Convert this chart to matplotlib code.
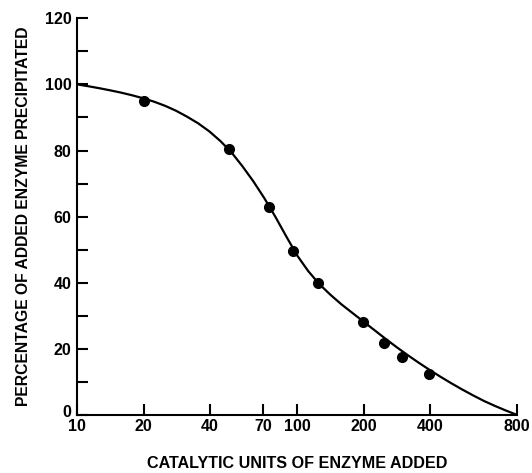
import matplotlib
matplotlib.use("Agg")
import matplotlib.pyplot as plt
from matplotlib.transforms import ScaledTranslation

# measured data points
pts_x = [20.2, 49.1, 74.5, 95.6, 124, 199, 249, 299, 397]
pts_y = [95.0, 80.4, 62.9, 49.6, 39.8, 28.2, 21.7, 17.5, 12.5]

# fitted curve
curve_x = [10, 11.22, 12.59, 14.13, 15.85, 17.78, 19.95, 22.39, 25.12, 28.18,
           31.62, 35.48, 39.81, 44.67, 50.12, 56.23, 63.10, 70.79, 79.43, 89.13,
           100, 112.2, 125.9, 141.3, 158.5, 177.8, 199.5, 223.9, 251.2, 281.8,
           316.2, 354.8, 398.1, 446.7, 501.2, 562.3, 631.0, 707.9, 794.3, 891.3, 1000]
curve_y = [100, 99.45, 98.85, 98.2, 97.5, 96.7, 95.8, 94.75, 93.5, 92.0,
           90.2, 88.2, 85.8, 82.9, 79.5, 75.3, 70.7, 65.6, 60.0, 54.0,
           48.2, 43.5, 39.6, 36.4, 33.5, 30.9, 28.3, 25.7, 23.1, 20.6,
           18.2, 15.9, 13.7, 11.6, 9.6, 7.7, 5.9, 4.2, 2.7, 1.3, 0]

# x tick positions as drawn (the last tick, labelled 800, sits at the end of the axis)
xtick_pos = [10, 20, 40, 70, 100, 200, 400, 1000]
xtick_labels = ["10", "20", "40", "70", "100", "200", "400", "800"]
ytick_major = [0, 20, 40, 60, 80, 100, 120]
ytick_minor = [10, 30, 50, 70, 90, 110]

plt.rcParams['font.family'] = ['Liberation Sans', 'DejaVu Sans']
plt.rcParams['font.weight'] = 'bold'

fig = plt.figure(figsize=(5.32, 4.73), dpi=100)
ax = fig.add_axes([77.3/532, 58/473, (517.3-77.3)/532, (415-18.3)/473])

ax.plot(curve_x, curve_y, color='black', lw=1.6, solid_capstyle='round',
        solid_joinstyle='round')
ax.plot(pts_x, pts_y, 'o', color='black', ms=7, clip_on=False)

ax.set_xscale('log')
ax.set_xlim(10, 1000)
ax.set_ylim(0, 120)
ax.set_xticks(xtick_pos)
ax.set_xticklabels(xtick_labels)
ax.xaxis.set_minor_locator(matplotlib.ticker.NullLocator())
ax.set_yticks(ytick_major)
ax.set_yticks(ytick_minor, minor=True)

for s in ['top', 'right']:
    ax.spines[s].set_visible(False)
for s in ['left', 'bottom']:
    ax.spines[s].set_linewidth(1.5)

ax.tick_params(axis='both', which='both', direction='in', width=1.5, length=8,
               labelsize=11.5, pad=4)
ax.tick_params(axis='x', which='major', pad=3)

# nudge the "0" label up a little, as in the original
zero_lbl = ax.get_yticklabels()[0]
zero_lbl.set_transform(zero_lbl.get_transform() + ScaledTranslation(0, 4/100, fig.dpi_scale_trans))

ax.set_xlabel("CATALYTIC UNITS OF ENZYME ADDED", fontsize=11.6, fontweight='bold', labelpad=16)
ax.set_ylabel("PERCENTAGE OF ADDED ENZYME PRECIPITATED", fontsize=11.3, fontweight='bold', labelpad=10)

fig.savefig("out.png", dpi=100)
